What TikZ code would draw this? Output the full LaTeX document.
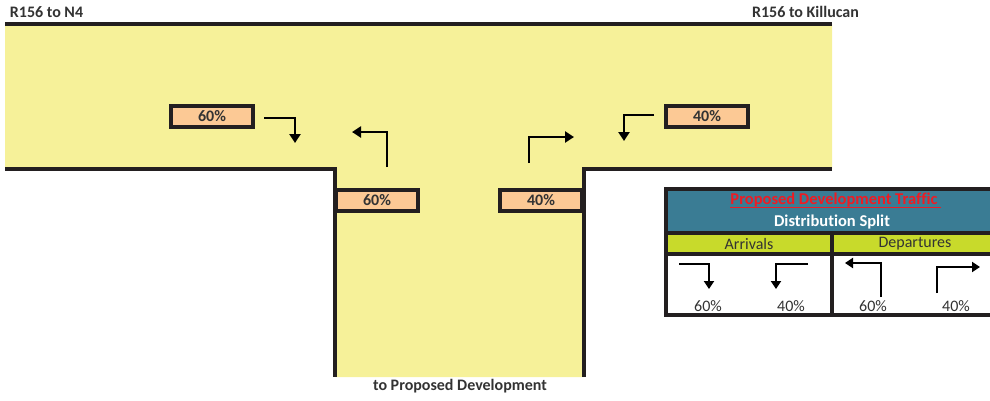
\documentclass[tikz,border=0pt]{standalone}
\usepackage{fontspec}
\setmainfont[Ligatures=NoCommon]{Carlito}
\usetikzlibrary{arrows.meta}
\definecolor{roadyellow}{HTML}{F6F199}
\definecolor{peach}{HTML}{FCC995}
\definecolor{headteal}{HTML}{3A7C94}
\definecolor{limebar}{HTML}{C8DA2B}
\definecolor{inkdark}{HTML}{231F20}
\definecolor{textgray}{HTML}{333333}
\definecolor{titlered}{HTML}{ED1C24}
\tikzset{
  border/.style={draw=inkdark, line width=4pt},
  pct/.style={draw=inkdark, line width=4pt, fill=peach, minimum width=82pt,
    minimum height=21pt, inner sep=0pt,
    font=\fontsize{16}{16}\selectfont\bfseries, text=textgray},
  turn/.style={line width=2.4pt, -{Triangle[width=11pt,length=9pt]}},
  smallturn/.style={line width=2pt, -{Triangle[width=10pt,length=8pt]}},
  roadname/.style={font=\fontsize{16}{16}\selectfont\bfseries, text=textgray, inner sep=0pt},
  cell/.style={font=\fontsize{16}{16}\selectfont, text=textgray, inner sep=0pt},
  headtext/.style={font=\fontsize{16.5}{16.5}\selectfont\bfseries, inner sep=0pt},
}
\begin{document}
\begin{tikzpicture}[x=1pt, y=-1pt]
\useasboundingbox (0,0) rectangle (990,400);
\clip (0,0) rectangle (990,400);

% road surface of the T-junction
\fill[roadyellow] (5,24) -- (832,24) -- (832,169) -- (584,169) -- (584,377)
  -- (335,377) -- (335,169) -- (5,169) -- cycle;
\draw[border] (5,24) -- (832,24);
\draw[border] (5,169) -- (335,169) -- (335,377);
\draw[border] (832,169) -- (584,169) -- (584,377);

% road names
\node[roadname] (n4) at (46.5,12) {R156 to N4};
\node[roadname] (kil) at (805.5,12) {R156 to Killucan};
\node[roadname] (dev) at (460,386) {to Proposed Development};

% percentage labels
\node[pct] (lw) at (212,116.5) {60\%};
\node[pct] (le) at (707,116.5) {40\%};
\node[pct] (ls) at (377,200.5) {60\%};
\node[pct] (rs) at (541,200.5) {40\%};

% turning movements on the junction
\coordinate (a1) at (264,118); \coordinate (a2) at (295,118); \coordinate (a3) at (295,143);
\coordinate (b1) at (387,167); \coordinate (b2) at (387,132); \coordinate (b3) at (352,132);
\coordinate (c1) at (529,163); \coordinate (c2) at (529,137); \coordinate (c3) at (574,137);
\coordinate (d1) at (654,115); \coordinate (d2) at (624,115); \coordinate (d3) at (624,141);
\draw[turn] (a1) -- (a2) -- (a3);
\draw[turn] (b1) -- (b2) -- (b3);
\draw[turn] (c1) -- (c2) -- (c3);
\draw[turn] (d1) -- (d2) -- (d3);

% distribution split table
\fill[headteal] (666,189) rectangle (999,233);
\fill[limebar] (666,233) rectangle (999,254);
\fill[white] (666,254) rectangle (999,315);
\draw[border] (666,189) rectangle (999,315);
\draw[border] (666,233) -- (999,233);
\draw[border] (666,254) -- (999,254);
\draw[border] (831.5,233) -- (831.5,315);

\node[headtext, text=titlered] (title) at (834,200) {Proposed Development Traffic};
\draw[titlered, line width=1.3pt] ([yshift=-3pt]title.base west) -- ([xshift=3pt,yshift=-3pt]title.base east);
\node[headtext, text=white] (sub) at (832,222) {Distribution Split};
\node[cell] (arr) at (749,243.5) {Arrivals};
\node[cell] (dep) at (915,243.5) {Departures};

\coordinate (ta1) at (679,264); \coordinate (ta2) at (709,264); \coordinate (ta3) at (709,289);
\coordinate (tb1) at (808,264); \coordinate (tb2) at (776,264); \coordinate (tb3) at (776,289);
\coordinate (tc1) at (881,297); \coordinate (tc2) at (881,263); \coordinate (tc3) at (845,263);
\coordinate (td1) at (937,293); \coordinate (td2) at (937,267); \coordinate (td3) at (980,267);
\draw[smallturn] (ta1) -- (ta2) -- (ta3);
\draw[smallturn] (tb1) -- (tb2) -- (tb3);
\draw[smallturn] (tc1) -- (tc2) -- (tc3);
\draw[smallturn] (td1) -- (td2) -- (td3);

\node[cell] (p1) at (708,306) {60\%};
\node[cell] (p2) at (791,306) {40\%};
\node[cell] (p3) at (873,306) {60\%};
\node[cell] (p4) at (956,306) {40\%};
\end{tikzpicture}
\end{document}
